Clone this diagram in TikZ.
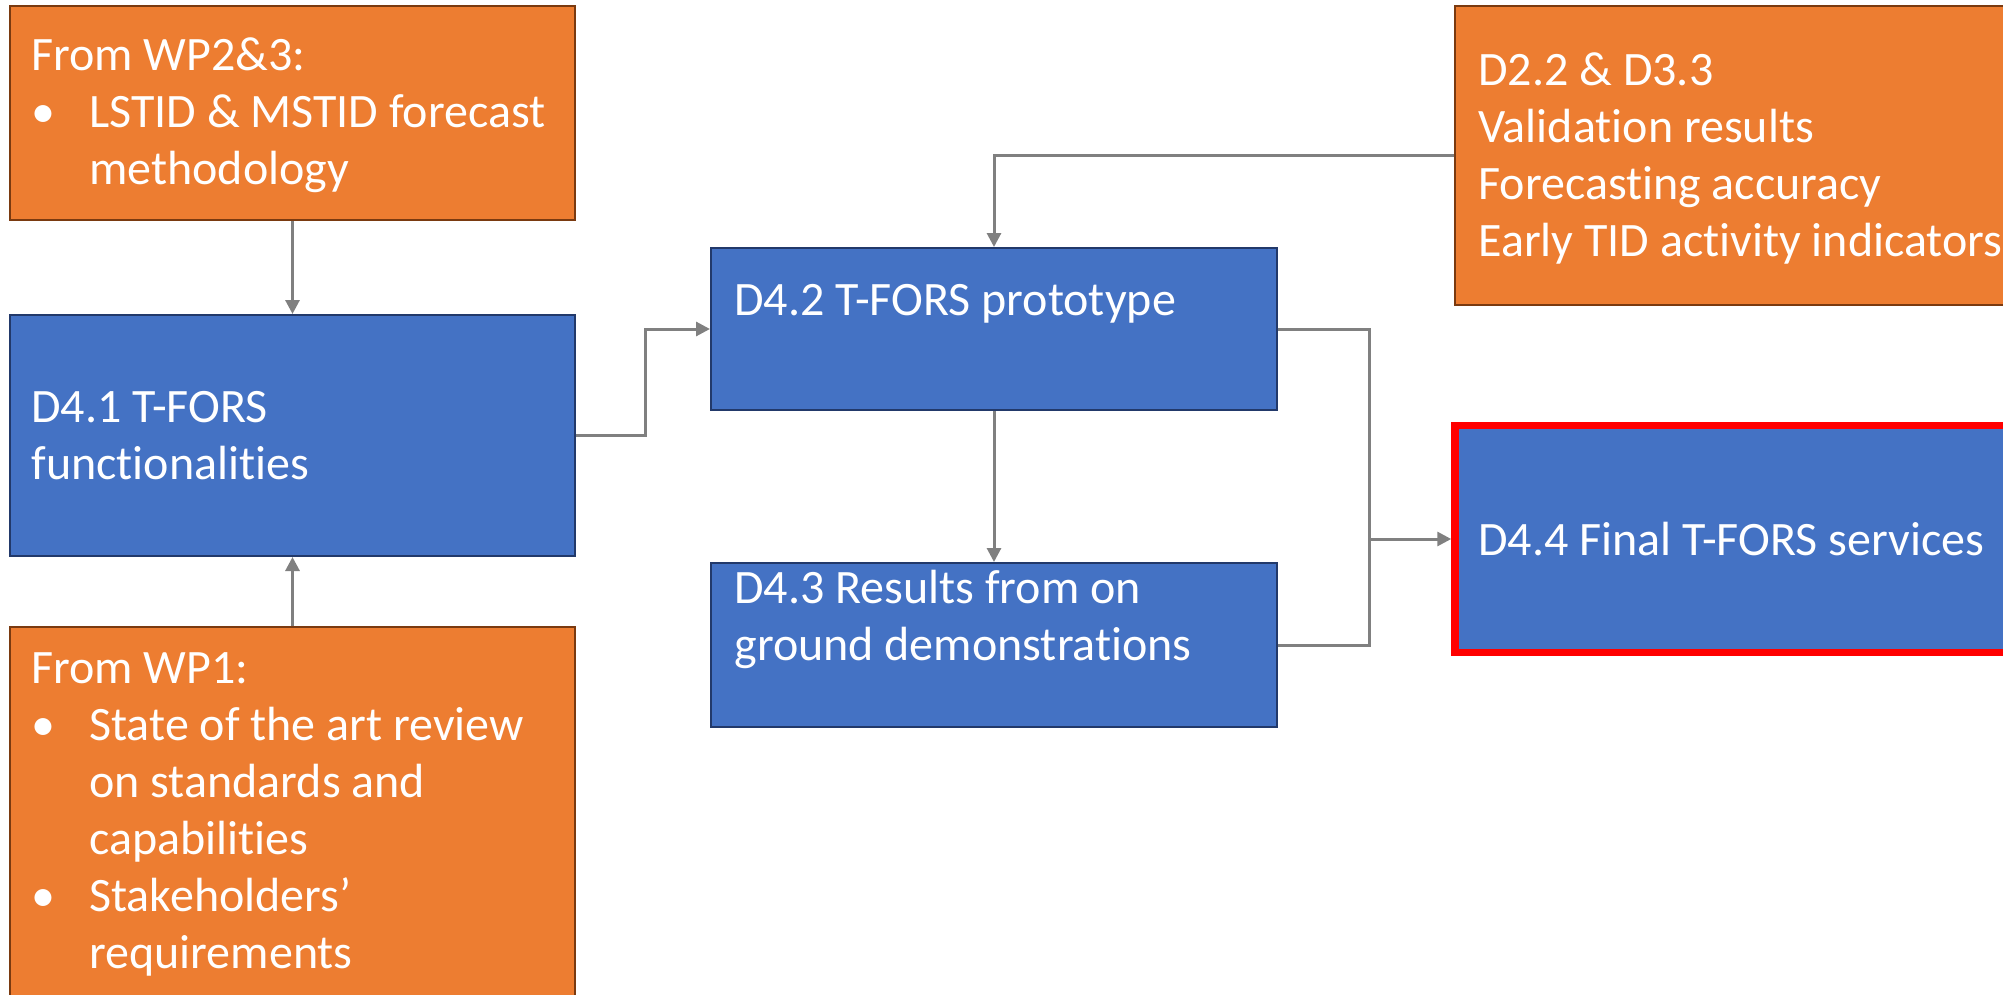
\documentclass[tikz,border=0pt]{standalone}
\usepackage{fontspec}
\setmainfont{Carlito}[Ligatures={NoCommon}]
\usetikzlibrary{arrows.meta}
\definecolor{orng}{HTML}{ED7D31}
\definecolor{orngb}{HTML}{7A3A10}
\definecolor{blu}{HTML}{4472C4}
\definecolor{blub}{HTML}{22396A}
\definecolor{conng}{HTML}{808080}
\definecolor{redb}{HTML}{FF0000}
\newcommand{\bul}{\makebox[29pt][l]{\hspace*{0pt}•}}
\newcommand{\ind}{\hspace*{29pt}}
\begin{document}
\begin{tikzpicture}[x=0.5pt,y=-0.5pt,
  obox/.style={draw=orngb,fill=orng,line width=1pt,inner sep=0pt,rectangle},
  bbox/.style={draw=blub,fill=blu,line width=1pt,inner sep=0pt,rectangle},
  rbox/.style={draw=redb,fill=blu,line width=3.75pt,inner sep=0pt,rectangle},
  txt/.style={inner sep=0pt,text=white,align=left,anchor=west,font=\fontsize{24}{28.5}\selectfont},
  conn/.style={draw=conng,line width=1.5pt},
  arr/.style={conn,-{Triangle[length=7pt,width=7pt]}}]
\useasboundingbox (0,0) rectangle (2003,995);
\clip (0,0) rectangle (2003,995);
% boxes
\node[obox,minimum width=282.5pt,minimum height=107pt] (A) at (292.5,113) {};
\node[bbox,minimum width=282.5pt,minimum height=120.5pt] (B) at (292.5,435.5) {};
\node[obox,minimum width=282.5pt,minimum height=191.5pt] (C) at (292.5,818.5) {};
\node[bbox,minimum width=283pt,minimum height=81pt] (D42) at (994,329) {};
\node[bbox,minimum width=283pt,minimum height=82pt] (D43) at (994,645) {};
\node[obox,minimum width=282.5pt,minimum height=149.5pt] (D22) at (1737.5,155.5) {};
\node[rbox,minimum width=282.5pt,minimum height=113.5pt] (D44) at (1737.5,539) {};
% texts
\node[txt] (tA) at (31,115) {From WP2\&3:\\\bul LSTID \& MSTID forecast\\\ind methodology};
\node[txt] (tB) at (31,436) {D4.1 T-FORS\\functionalities};
\node[txt] (tC) at (31,814) {From WP1:\\\bul State of the art review\\\ind on standards and\\\ind capabilities\\\bul Stakeholders’\\\ind requirements};
\node[txt] (tD42) at (734,304) {D4.2 T-FORS prototype};
\node[txt] (tD43) at (734,619) {D4.3 Results from on\\ground demonstrations};
\node[txt] (tD22) at (1478,158.5) {D2.2 \& D3.3\\Validation results\\Forecasting accuracy\\Early TID activity indicators};
\node[txt] (tD44) at (1478,539) {D4.4 Final T-FORS services};
% connectors
\draw[arr] (A.south) -- (B.north);
\draw[arr] (C.north) -- (B.south);
\draw[arr] (B.east) -- ++(69,0) |- (D42.west);
\draw[arr] (D22.west) -| (D42.north);
\draw[arr] (D42.south) -- (D43.north);
\draw[conn] (D42.east) -- ++(91,0) coordinate (j) |- (D43.east);
\draw[arr] (j |- D44.west) -- (D44.west);
\end{tikzpicture}
\end{document}
